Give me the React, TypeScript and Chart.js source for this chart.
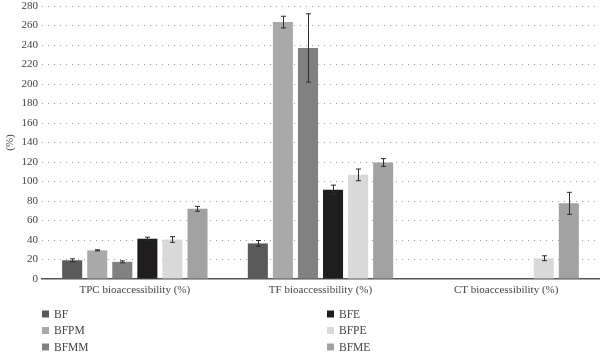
import React, { useEffect, useRef } from "react";
import { Chart, registerables } from "chart.js";

Chart.register(...registerables);

const categories = ["TPC bioaccessibility (%)", "TF bioaccessibility (%)", "CT bioaccessibility (%)"];
const seriesNames = ["BF", "BFPM", "BFMM", "BFE", "BFPE", "BFME"];

const bfValues = [19.2, 36.5, null];
const bfpmValues = [29.4, 263.5, null];
const bfmmValues = [17.6, 237, null];
const bfeValues = [41.3, 91.5, null];
const bfpeValues = [40.5, 106.8, 21.3];
const bfmeValues = [72, 119.5, 77.6];

const bfErrors = [1.5, 3, 0];
const bfpmErrors = [0.6, 6, 0];
const bfmmErrors = [1, 35, 0];
const bfeErrors = [1.6, 4.8, 0];
const bfpeErrors = [2.9, 6, 2.5];
const bfmeErrors = [2.5, 4, 11.3];

const yTickMin = 0;
const yTickMax = 280;
const yTickStep = 20;

const seriesColors = ["#5a5a5a", "#a9a9a9", "#818181", "#201d1e", "#d9d9d9", "#a2a2a2"];

const FONT = "'Liberation Serif', 'DejaVu Serif', serif";

const errorBarPlugin = {
  id: "errorBars",
  afterDatasetsDraw(chart: any) {
    const ctx = chart.ctx;
    const yScale = chart.scales.y;
    ctx.save();
    ctx.strokeStyle = "#2b2b2b";
    ctx.lineWidth = 1;
    chart.data.datasets.forEach((ds: any, di: number) => {
      const meta = chart.getDatasetMeta(di);
      meta.data.forEach((el: any, i: number) => {
        const v = ds.data[i];
        const e = ds.errors ? ds.errors[i] : 0;
        if (v === null || v === undefined || !e) return;
        const x = Math.round(el.x) + 0.5;
        const yT = yScale.getPixelForValue(v + e);
        const yB = yScale.getPixelForValue(v - e);
        const cap = 2.5;
        ctx.beginPath();
        ctx.moveTo(x, yT);
        ctx.lineTo(x, yB);
        ctx.moveTo(x - cap, yT);
        ctx.lineTo(x + cap, yT);
        ctx.moveTo(x - cap, yB);
        ctx.lineTo(x + cap, yB);
        ctx.stroke();
      });
    });
    ctx.restore();
  },
};

const legendPlugin = {
  id: "customLegend",
  afterDraw(chart: any) {
    const ctx = chart.ctx;
    const area = chart.chartArea;
    const colX = [area.left, 327];
    const rowY0 = area.bottom + 35;
    const rowGap = 16.5;
    ctx.save();
    ctx.font = `11.5px ${FONT}`;
    ctx.textBaseline = "middle";
    ctx.textAlign = "left";
    chart.data.datasets.forEach((ds: any, i: number) => {
      const col = Math.floor(i / 3);
      const row = i % 3;
      const x = colX[col];
      const y = rowY0 + row * rowGap;
      ctx.fillStyle = ds.backgroundColor;
      ctx.fillRect(x, y - 3.5, 7, 7);
      ctx.fillStyle = "#444";
      ctx.fillText(ds.label, x + 12, y + 0.5);
    });
    ctx.restore();
  },
};

export default function App() {
  const ref = useRef<HTMLCanvasElement | null>(null);

  useEffect(() => {
    if (!ref.current) return;
    const values = [bfValues, bfpmValues, bfmmValues, bfeValues, bfpeValues, bfmeValues];
    const errors = [bfErrors, bfpmErrors, bfmmErrors, bfeErrors, bfpeErrors, bfmeErrors];
    const chart = new Chart(ref.current, {
      type: "bar",
      data: {
        labels: categories,
        datasets: seriesNames.map((name, i) => ({
          label: name,
          data: values[i],
          errors: errors[i],
          backgroundColor: seriesColors[i],
          borderWidth: 0,
          barPercentage: 0.8,
          categoryPercentage: 0.81,
        })) as any,
      },
      options: {
        animation: false,
        responsive: false,
        maintainAspectRatio: false,
        layout: { padding: { left: 0, right: 1, top: 0, bottom: 0 } },
        plugins: {
          legend: { display: false },
          tooltip: { enabled: false },
        },
        scales: {
          x: {
            grid: { display: false, drawTicks: false },
            border: { display: true, color: "#555", width: 1.5 },
            ticks: {
              color: "#444",
              font: { family: FONT, size: 11 },
              padding: 5,
              maxRotation: 0,
            },
            afterFit(scale: any) {
              scale.height = 77;
            },
          },
          y: {
            min: yTickMin,
            max: yTickMax,
            ticks: {
              stepSize: yTickStep,
              color: "#444",
              font: { family: FONT, size: 11 },
              padding: 4,
            },
            grid: {
              drawTicks: false,
              color: (c: any) => (c.tick && c.tick.value === 0 ? "rgba(0,0,0,0)" : "#9a9a9a"),
              lineWidth: 1,
            },
            border: { display: false, dash: [1, 5] },
            title: {
              display: true,
              text: "(%)",
              color: "#444",
              font: { family: FONT, size: 11 },
              padding: { top: 4, bottom: 0 },
            },
            afterFit(scale: any) {
              scale.width = 42;
              scale.paddingTop = 6;
              scale.paddingBottom = 0;
            },
          },
        },
      },
      plugins: [errorBarPlugin, legendPlugin],
    } as any);
    return () => chart.destroy();
  }, []);

  return (
    <div style={{ position: "fixed", left: 0, top: 0, width: 600, height: 356, background: "#fff" }}>
      <canvas ref={ref} width={600} height={356} style={{ width: 600, height: 356 }} />
    </div>
  );
}
